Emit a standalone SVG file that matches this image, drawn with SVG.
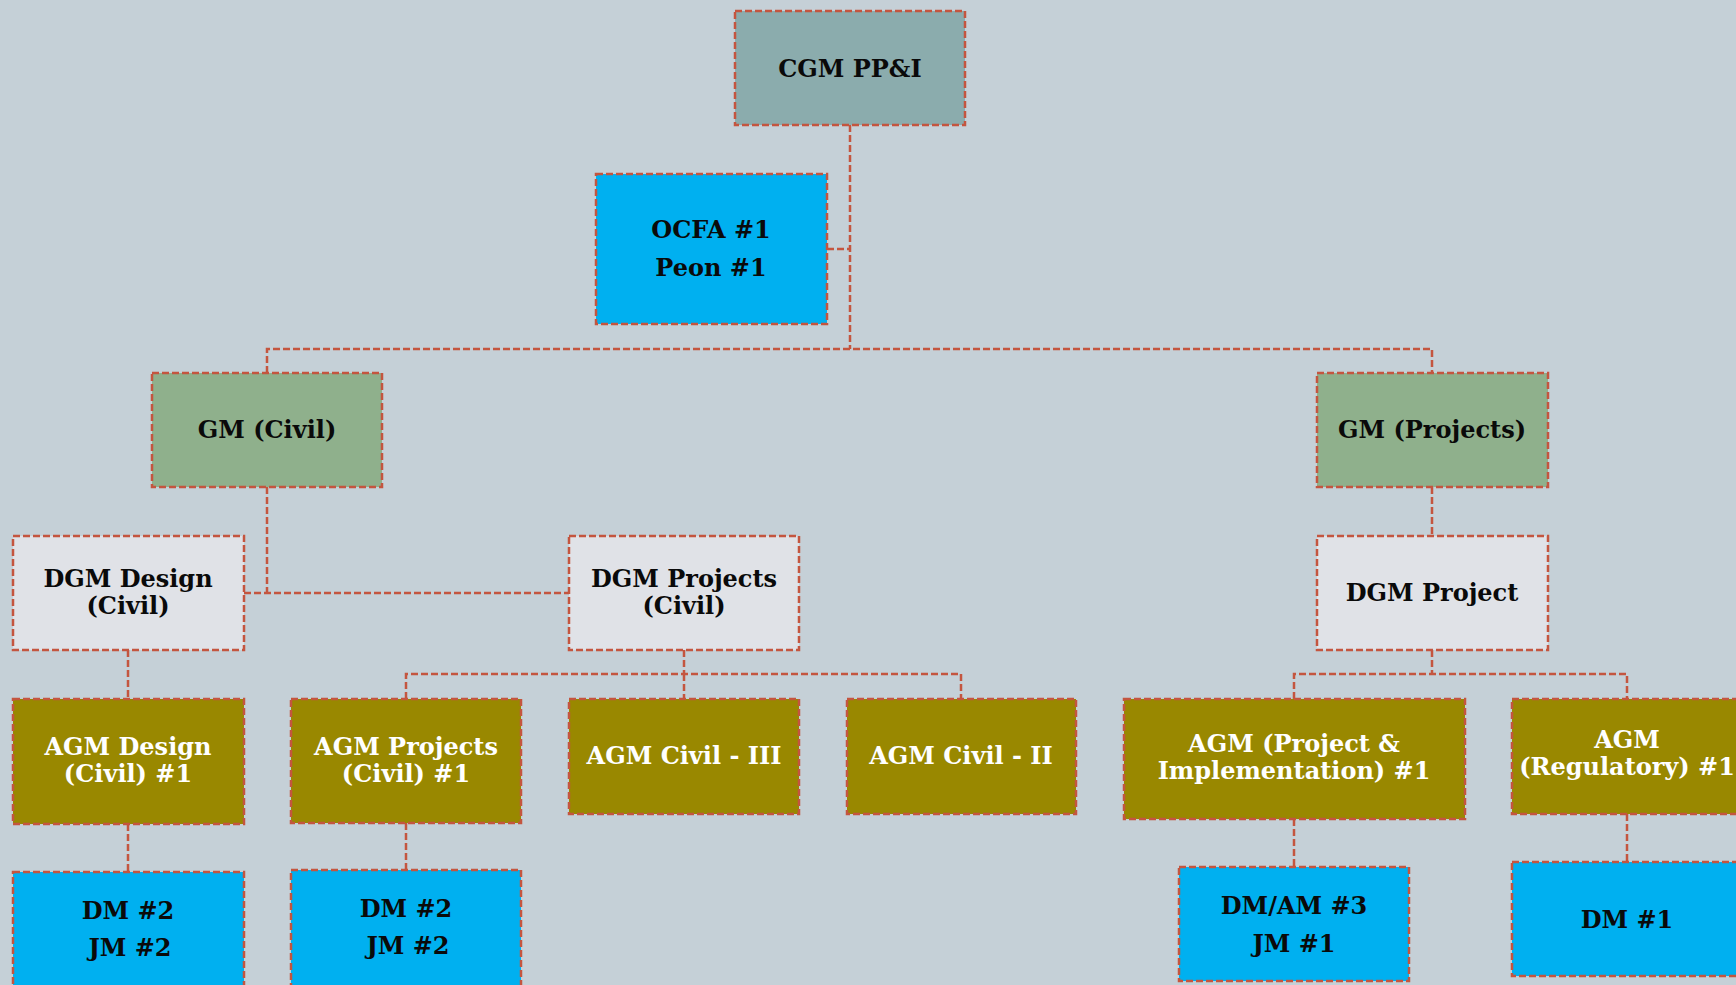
<svg xmlns="http://www.w3.org/2000/svg" width="1736" height="985" viewBox="0 0 1736 985">
<style>
.box{stroke:#C4553F;stroke-width:2.5;stroke-dasharray:7 3}
.c{fill:none;stroke:#C4553F;stroke-width:2.5;stroke-dasharray:7 3}
text{font-family:"DejaVu Serif","Liberation Serif",serif;font-weight:bold;font-size:24px;text-anchor:middle;fill:#0a0a0a}
.w{fill:#fff}
.cgm{fill:#8BACAD}.blue{fill:#00B0F0}.gm{fill:#8FB08C}.dgm{fill:#E0E2E7}.agm{fill:#998800}
</style>
<rect width="1736" height="985" fill="#C5D0D7"/>
<g id="connectors">
<path class="c" d="M850 125V349M827 249H850M267 373V349H1432V373"/>
<path class="c" d="M267 487V593M244 593H569"/>
<path class="c" d="M1432 487V536"/>
<path class="c" d="M128 650V699"/>
<path class="c" d="M684 650V674M406 699V674H961V699M684 674V699"/>
<path class="c" d="M1432 650V674M1294 699V674H1627V699"/>
<path class="c" d="M128 824V872M406 823V870M1294 819V867M1627 814V862"/>
</g>
<g id="cgm"><rect class="box cgm" x="735" y="11" width="230" height="114"/><text x="850" y="77">CGM PP&amp;I</text></g>
<g id="ocfa"><rect class="box blue" x="596" y="174" width="231" height="150"/><text x="711" y="238">OCFA #1</text><text x="711" y="276">Peon #1</text></g>
<g id="gm-civil"><rect class="box gm" x="152" y="373" width="230" height="114"/><text x="267" y="438">GM (Civil)</text></g>
<g id="gm-projects"><rect class="box gm" x="1317" y="373" width="231" height="114"/><text x="1432" y="438">GM (Projects)</text></g>
<g id="dgm-design"><rect class="box dgm" x="13" y="536" width="231" height="114"/><text x="128" y="587">DGM Design</text><text x="128" y="614">(Civil)</text></g>
<g id="dgm-projects"><rect class="box dgm" x="569" y="536" width="230" height="114"/><text x="684" y="587">DGM Projects</text><text x="684" y="614">(Civil)</text></g>
<g id="dgm-project"><rect class="box dgm" x="1317" y="536" width="231" height="114"/><text x="1432" y="601">DGM Project</text></g>
<g id="agm-design"><rect class="box agm" x="13" y="699" width="231" height="125"/><text class="w" x="128" y="755">AGM Design</text><text class="w" x="128" y="782">(Civil) #1</text></g>
<g id="agm-projects"><rect class="box agm" x="291" y="699" width="230" height="124"/><text class="w" x="406" y="755">AGM Projects</text><text class="w" x="406" y="782">(Civil) #1</text></g>
<g id="agm-civil-3"><rect class="box agm" x="569" y="699" width="230" height="115"/><text class="w" x="684" y="764">AGM Civil - III</text></g>
<g id="agm-civil-2"><rect class="box agm" x="847" y="699" width="229" height="115"/><text class="w" x="961" y="764">AGM Civil - II</text></g>
<g id="agm-pi"><rect class="box agm" x="1124" y="699" width="341" height="120"/><text class="w" x="1294" y="752">AGM (Project &amp;</text><text class="w" x="1294" y="779">Implementation) #1</text></g>
<g id="agm-reg"><rect class="box agm" x="1512" y="699" width="230" height="115"/><text class="w" x="1627" y="748">AGM</text><text class="w" x="1627" y="775">(Regulatory) #1</text></g>
<g id="dm-design"><rect class="box blue" x="13" y="872" width="231" height="125"/><text x="128" y="919">DM #2</text><text x="130" y="956">JM #2</text></g>
<g id="dm-projects"><rect class="box blue" x="291" y="870" width="230" height="125"/><text x="406" y="917">DM #2</text><text x="408" y="954">JM #2</text></g>
<g id="dm-am"><rect class="box blue" x="1179" y="867" width="230" height="114"/><text x="1294" y="914">DM/AM #3</text><text x="1294" y="952">JM #1</text></g>
<g id="dm-1"><rect class="box blue" x="1512" y="862" width="230" height="114"/><text x="1627" y="928">DM #1</text></g>
</svg>
